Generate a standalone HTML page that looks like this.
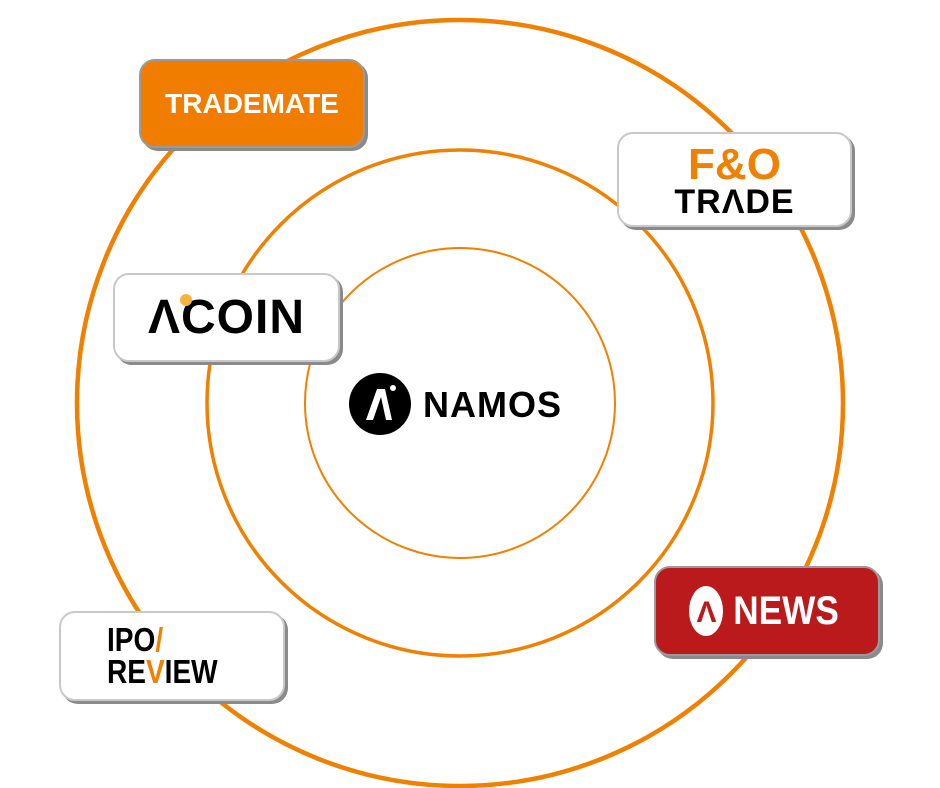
<!DOCTYPE html>
<html><head><meta charset="utf-8"><style>
html,body{margin:0;padding:0;background:#fff;}
body{width:940px;height:788px;position:relative;overflow:hidden;font-family:"Liberation Sans",sans-serif;}
.box{position:absolute;border-radius:16px;box-sizing:border-box;border:2px solid #c8c8c8;box-shadow:3px 3px 0 #8a8a8a;display:flex;align-items:center;justify-content:center;font-weight:bold;}
</style></head><body>
<svg width="940" height="788" style="position:absolute;left:0;top:0">
<circle cx="460" cy="403" r="383" fill="none" stroke="#f08000" stroke-width="4.5"/>
<circle cx="460" cy="403" r="253" fill="none" stroke="#f08000" stroke-width="3.5"/>
<circle cx="460" cy="403" r="155" fill="none" stroke="#f08000" stroke-width="2"/>
<circle cx="380" cy="404" r="31" fill="#000"/>
<path d="M366 420 L377 389 L385 389 L392 420 L386 420 L381 397 L373 420 Z" fill="#fff"/>
<circle cx="393" cy="388" r="3" fill="#fff"/>
<text x="423" y="417" font-family="Liberation Sans,sans-serif" font-weight="bold" font-size="36" fill="#000" letter-spacing="1">NAMOS</text>
</svg>
<div class="box" style="left:139px;top:59px;width:226px;height:89px;background:#f07d00;border-color:#9a9a9a;color:#fff;font-size:28px;letter-spacing:0px;">TRADEMATE</div>
<div class="box" style="left:113px;top:273px;width:227px;height:89px;background:#fff;color:#000;font-size:48px;letter-spacing:1px;"><span style="position:relative">ΛCOIN<span style="position:absolute;left:32px;top:4px;width:12px;height:12px;border-radius:50%;background:#f5b440"></span></span></div>
<div class="box" style="left:617px;top:132px;width:235px;height:95px;background:#fff;flex-direction:column;line-height:1;">
<div style="color:#f08000;font-size:44px;margin-top:2px">F&amp;O</div>
<div style="color:#000;font-size:34px;letter-spacing:1px;margin-top:-2px">TRΛDE</div></div>
<div class="box" style="left:59px;top:611px;width:226px;height:90px;background:#fff;flex-direction:column;align-items:flex-start;padding-left:46px;line-height:0.98;font-size:33px;color:#000;">
<div style="transform:scaleX(0.85);transform-origin:left">IPO<span style="color:#f08000">/</span></div><div style="transform:scaleX(0.85);transform-origin:left">RE<span style="color:#f08000">V</span>IEW</div></div>
<div class="box" style="left:654px;top:566px;width:226px;height:90px;background:#bb1a1c;border-color:#9a9a9a;color:#fff;font-size:40px;">
<span style="display:inline-block;width:34px;height:50px;border-radius:50%;background:#fff;margin-right:3px;position:relative"><span style="position:absolute;left:8px;top:10px;color:#bb1a1c;font-size:30px">Λ</span></span><span style="display:inline-block;transform:scaleX(0.88)">NEWS</span></div>
</body></html>
